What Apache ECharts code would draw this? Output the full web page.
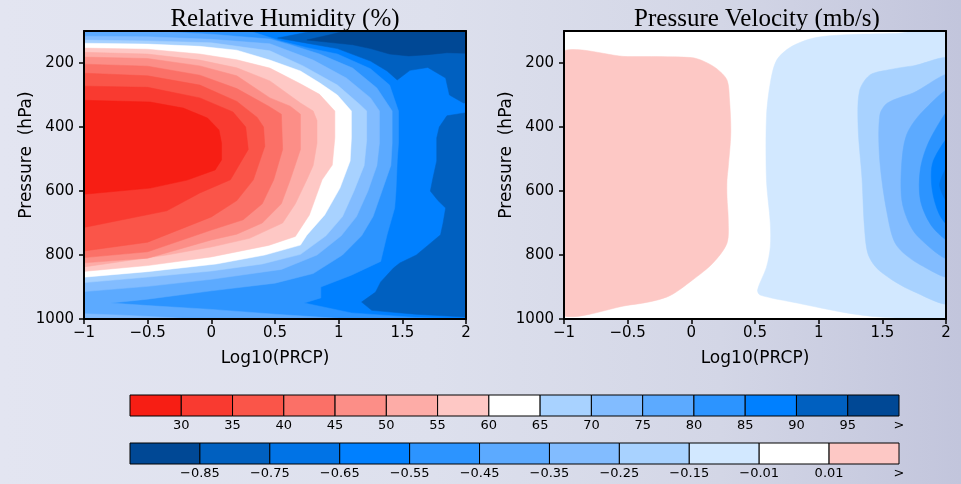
<!DOCTYPE html>
<html>
<head>
<meta charset="utf-8">
<title>Relative Humidity / Pressure Velocity</title>
<script src="https://cdn.jsdelivr.net/npm/echarts@6.0.0/dist/echarts.min.js"></script>
<style>
    html, body { margin: 0; padding: 0; }
    body {
        width: 961px; height: 484px; overflow: hidden;
        background: linear-gradient(to right, #e3e5f1 0%, #dde0ed 45%, #d3d6e6 75%, #c2c5dc 100%);
    }
    #chart { width: 961px; height: 484px; }
</style>
</head>
<body>
<div id="chart"></div>
<script type="text/javascript">
    // colour scales (one entry per band of the colour bars)
    var rhColors = ['#f71e14', '#f93a30', '#fa5549', '#fb7067', '#fc8e87', '#fdaca7', '#fec8c5', '#ffffff',
        '#a8d2ff', '#82bcff', '#5caaff', '#2c94ff', '#0080ff', '#0060c0', '#004895'];
    var rhBarLabels = ['30', '35', '40', '45', '50', '55', '60', '65', '70', '75', '80', '85', '90', '95', '>'];
    var wColors = ['#004895', '#0060c0', '#0073e6', '#0080ff', '#2c94ff', '#5caaff', '#82bcff', '#a8d2ff',
        '#d2e8ff', '#ffffff', '#fdc8c5'];
    var wBarLabels = ['\u22120.85', '\u22120.75', '\u22120.65', '\u22120.55', '\u22120.45', '\u22120.35',
        '\u22120.25', '\u22120.15', '\u22120.01', '0.01', '>'];
    var pressTicks = [200, 400, 600, 800, 1000];

    // relative humidity contours, [log10(prcp), hPa]
    var rhAbove90Top = [[0.52,122],[0.65,112],[0.80,100],[0.80,95],[2.05,95],[2.05,325],[1.98,325],[1.87,300],[1.84,247],
        [1.70,214],[1.56,223],[1.46,253],[1.38,225],[1.25,194],[0.99,155],[0.75,138],[0.52,122]];
    var rhAbove90Right = [[2.05,352],[1.85,365],[1.79,400],[1.77,434],[1.77,506],[1.74,560],[1.72,600],[1.78,630],[1.84,653],
        [1.82,700],[1.80,737],[1.70,770],[1.61,800],[1.48,825],[1.43,841],[1.33,884],[1.29,916],[1.18,947],[1.26,973],
        [1.60,985],[2.05,995]];
    var rhAbove95 = [[0.75,128],[0.93,112],[1.05,100],[1.05,95],[2.05,95],[2.05,170],[1.85,168],[1.70,174],[1.55,178],
        [1.40,172],[1.25,155],[1.11,143],[0.96,137],[0.75,128]];
    var rhBelow85 = [[0.30,95],[0.30,100],[0.42,115],[0.55,132],[0.75,152],[0.99,172],[1.25,218],[1.40,269],[1.47,350],
        [1.47,450],[1.46,506],[1.45,600],[1.44,653],[1.38,737],[1.33,820],[1.10,863],[0.86,900],[0.86,934],[0.73,950],
        [1.10,981],[1.60,995],[2.05,1001],[2.05,1010],[-1.05,1010],[-1.05,95]];
    var rhBelow80 = [[-0.47,95],[-0.47,100],[0.0,110],[0.46,125],[0.62,143],[0.85,172],[1.11,216],[1.30,278],[1.42,350],
        [1.42,450],[1.41,520],[1.34,600],[1.27,680],[1.18,740],[1.03,800],[0.80,858],[0.50,888],[0.0,912],[-0.5,938],
        [-0.79,950],[-0.5,958],[0.0,970],[0.5,985],[1.0,998],[1.2,1010],[-1.05,1010],[-1.05,95]];
    var rhBelow75 = [[-1.05,116],[-0.5,118],[0.0,126],[0.46,140],[0.80,191],[1.06,247],[1.25,309],[1.32,350],[1.32,450],
        [1.30,520],[1.23,600],[1.14,680],[1.02,740],[0.83,800],[0.55,845],[0.0,876],[-0.5,898],[-1.05,916]];
    var rhBelow75Foot = [[-1.05,983],[-0.7,988],[-0.3,996],[0.0,1005],[-1.05,1005]];
    var rhBelow70 = [[-1.05,128],[-0.5,131],[0.0,137],[0.46,162],[0.72,209],[0.99,269],[1.17,331],[1.22,350],[1.22,440],
        [1.20,520],[1.12,600],[1.03,680],[0.90,740],[0.70,798],[0.40,828],[0.0,850],[-0.5,869],[-1.05,888]];
    var rhBelow65 = [[-1.05,138],[-0.5,141],[-0.09,148],[0.2,160],[0.46,191],[0.70,225],[0.85,262],[0.99,300],[1.10,350],
        [1.10,434],[1.09,506],[1.01,591],[0.89,675],[0.75,738],[0.70,769],[0.42,800],[0.04,828],[-0.5,852],[-1.05,871]];
    var rhBelow60 = [[-1.05,153],[-0.5,157],[-0.09,172],[0.2,190],[0.46,216],[0.70,265],[0.85,298],[0.97,350],[0.97,434],
        [0.95,519],[0.87,565],[0.77,675],[0.66,742],[0.45,770],[0.0,806],[-0.5,833],[-1.05,853]];
    var rhBelow55 = [[-1.05,166],[-0.5,172],[-0.09,191],[0.2,215],[0.46,256],[0.70,325],[0.80,350],[0.83,380],[0.83,450],
        [0.80,520],[0.75,565],[0.66,640],[0.56,700],[0.30,748],[0.0,775],[-0.35,800],[-1.05,840]];
    var rhBelow50 = [[-1.05,181],[-0.5,186],[-0.09,209],[0.2,240],[0.46,309],[0.62,335],[0.70,360],[0.70,470],[0.62,565],
        [0.55,640],[0.40,700],[0.2,735],[0.0,753],[-0.5,810],[-1.05,826]];
    var rhBelow45 = [[-1.05,203],[-0.5,210],[-0.09,238],[0.2,280],[0.45,335],[0.55,360],[0.56,470],[0.49,565],[0.40,640],
        [0.25,690],[0.0,722],[-0.5,790],[-1.05,810]];
    var rhBelow40 = [[-1.05,231],[-0.5,240],[-0.09,269],[0.2,320],[0.36,370],[0.41,400],[0.42,460],[0.33,565],[0.2,630],
        [0.0,681],[-0.5,760],[-1.05,790]];
    var rhBelow35 = [[-1.05,272],[-0.5,276],[-0.09,309],[0.17,353],[0.27,400],[0.29,470],[0.15,565],[-0.09,606],
        [-0.35,662],[-1.05,718]];
    var rhBelow30 = [[-1.05,316],[-0.48,322],[-0.22,341],[-0.03,372],[0.06,409],[0.08,450],[0.08,503],[0.03,534],
        [-0.19,566],[-0.48,591],[-1.05,612]];

    // pressure velocity contours, [log10(prcp), hPa]
    var wAbove001 = [[-1.05,181],[-0.5,180],[0.0,183],[0.1,195],[0.2,218],[0.28,253],[0.30,316],[0.31,419],[0.29,525],
        [0.28,566],[0.28,619],[0.29,691],[0.28,763],[0.17,825],[0.01,878],[-0.19,931],[-0.48,956],[-1.05,972]];
    var wBelowM001 = [[2.05,105],[1.6,108],[1.2,112],[0.96,122],[0.78,150],[0.67,191],[0.62,263],[0.59,368],[0.59,566],
        [0.62,700],[0.62,775],[0.59,838],[0.52,909],[0.54,925],[0.83,950],[1.22,981],[1.48,994],[1.8,1001],[2.05,1003]];
    var wBelowM015 = [[2.05,194],[1.74,209],[1.54,222],[1.40,238],[1.32,288],[1.31,403],[1.34,559],[1.36,716],[1.39,800],
        [1.48,850],[1.74,913],[2.05,944]];
    var wBelowM025 = [[2.05,241],[1.74,294],[1.54,325],[1.48,363],[1.48,506],[1.54,675],[1.61,769],[1.80,831],[2.05,863]];
    var wBelowM035 = [[2.05,284],[1.82,350],[1.69,425],[1.65,528],[1.66,644],[1.77,738],[2.05,809]];
    var wBelowM045 = [[2.05,341],[1.88,434],[1.80,528],[1.80,631],[1.90,716],[2.05,756]];
    var wBelowM055 = [[2.05,425],[1.90,506],[1.89,591],[1.95,675],[2.05,716]];
    var wBelowM065 = [[2.05,506],[1.95,581],[2.05,653]];

    var rhLayers = [
        {pts: rhAbove90Top, color: rhColors[13]},
        {pts: rhAbove90Right, color: rhColors[13]},
        {pts: rhAbove95, color: rhColors[14]},
        {pts: rhBelow85, color: rhColors[11]},
        {pts: rhBelow80, color: rhColors[10]},
        {pts: rhBelow75, color: rhColors[9]},
        {pts: rhBelow75Foot, color: rhColors[9]},
        {pts: rhBelow70, color: rhColors[8]},
        {pts: rhBelow65, color: rhColors[7]},
        {pts: rhBelow60, color: rhColors[6]},
        {pts: rhBelow55, color: rhColors[5]},
        {pts: rhBelow50, color: rhColors[4]},
        {pts: rhBelow45, color: rhColors[3]},
        {pts: rhBelow40, color: rhColors[2]},
        {pts: rhBelow35, color: rhColors[1]},
        {pts: rhBelow30, color: rhColors[0]}
    ];
    var wLayers = [
        {pts: wAbove001, color: wColors[10]},
        {pts: wBelowM001, color: wColors[8]},
        {pts: wBelowM015, color: wColors[7]},
        {pts: wBelowM025, color: wColors[6]},
        {pts: wBelowM035, color: wColors[5]},
        {pts: wBelowM045, color: wColors[4]},
        {pts: wBelowM055, color: wColors[3]},
        {pts: wBelowM065, color: wColors[2]}
    ];

    var font = 'DejaVu Sans';

    function contourSeries(idx, layers, smooth) {
        return {
            type: 'custom', xAxisIndex: idx, yAxisIndex: idx, clip: true, silent: true,
            data: layers.map(function () { return [0.5, 500]; }),
            renderItem: function (params, api) {
                var layer = layers[params.dataIndex];
                return {
                    type: 'polygon', z2: params.dataIndex,
                    shape: {points: layer.pts.map(function (p) { return api.coord(p); }), smooth: smooth},
                    style: {fill: layer.color, stroke: layer.color, lineWidth: 0.5}
                };
            }
        };
    }

    function barSeries(idx, colors) {
        return {
            type: 'custom', xAxisIndex: idx, yAxisIndex: idx, silent: true,
            data: colors.map(function (c, i) { return [i + 0.5, 0.5]; }),
            renderItem: function (params, api) {
                var i = params.dataIndex;
                var a = api.coord([i, 1]), b = api.coord([i + 1, 0]);
                return {
                    type: 'rect',
                    shape: {x: a[0], y: a[1], width: b[0] - a[0], height: b[1] - a[1]},
                    style: {fill: colors[i], stroke: '#000', lineWidth: 1}
                };
            }
        };
    }

    function plotX(grid, top) {
        return {
            gridIndex: grid, type: 'value', min: -1, max: 2, interval: 0.5, position: top ? 'top' : 'bottom', z: 10,
            axisLine: {show: true, onZero: false, lineStyle: {color: '#000', width: 2}},
            axisTick: {show: !top, length: 5, lineStyle: {color: '#000', width: 1.5}},
            axisLabel: {show: !top, color: '#000', fontSize: 15, fontFamily: font, margin: 7,
                formatter: function (v) { return String(v).replace('-', '\u2212'); }},
            splitLine: {show: false},
            name: top ? '' : 'Log10(PRCP)', nameLocation: 'middle', nameGap: 31,
            nameTextStyle: {color: '#000', fontSize: 17, fontFamily: font}
        };
    }

    function plotY(grid, right) {
        return {
            gridIndex: grid, type: 'value', min: 100, max: 1000, inverse: true, position: right ? 'right' : 'left', z: 10,
            axisLine: {show: true, onZero: false, lineStyle: {color: '#000', width: 2}},
            axisTick: {show: !right, length: 5, customValues: pressTicks, lineStyle: {color: '#000', width: 1.5}},
            axisLabel: {show: !right, color: '#000', fontSize: 15, fontFamily: font, margin: 10, customValues: pressTicks,
                formatter: function (v) { return String(v); }},
            splitLine: {show: false}
        };
    }

    function barX(grid, labels) {
        var vals = labels.map(function (l, i) { return i + 1; });
        return {
            gridIndex: grid, type: 'value', min: 0, max: labels.length,
            axisLine: {show: false}, axisTick: {show: false}, splitLine: {show: false},
            axisLabel: {color: '#000', fontSize: 13, fontFamily: font, margin: 3, customValues: vals,
                formatter: function (v) { return labels[Math.round(v) - 1]; }}
        };
    }

    function barY(grid) {
        return {gridIndex: grid, type: 'value', min: 0, max: 1, show: false};
    }

    var myChart = echarts.init(document.getElementById('chart'), null, {renderer: 'canvas'});

    var option = {
        animation: false,
        backgroundColor: 'transparent',
        title: [
            {text: 'Relative Humidity (%)', left: 280, top: 2, textAlign: 'center',
                textStyle: {fontFamily: 'Liberation Serif', fontSize: 25, fontWeight: 'normal', color: '#000'}},
            {text: 'Pressure Velocity (mb/s)', left: 752, top: 2, textAlign: 'center',
                textStyle: {fontFamily: 'Liberation Serif', fontSize: 25, fontWeight: 'normal', color: '#000'}}
        ],
        grid: [
            {left: 84, top: 31, width: 382, height: 288, show: true, backgroundColor: rhColors[12], borderWidth: 0},
            {left: 564, top: 31, width: 382, height: 288, show: true, backgroundColor: '#ffffff', borderWidth: 0},
            {left: 130, top: 395, width: 769, height: 21},
            {left: 130, top: 443, width: 769, height: 21}
        ],
        xAxis: [plotX(0, false), plotX(0, true), plotX(1, false), plotX(1, true), barX(2, rhBarLabels), barX(3, wBarLabels)],
        yAxis: [plotY(0, false), plotY(0, true), plotY(1, false), plotY(1, true), barY(2), barY(3)],
        graphic: [
            {type: 'text', x: 27, y: 155, rotation: Math.PI / 2,
                style: {text: 'Pressure  (hPa)', font: '17px "DejaVu Sans"', fill: '#000',
                    align: 'center', verticalAlign: 'middle', textAlign: 'center', textVerticalAlign: 'middle'}},
            {type: 'text', x: 507, y: 155, rotation: Math.PI / 2,
                style: {text: 'Pressure  (hPa)', font: '17px "DejaVu Sans"', fill: '#000',
                    align: 'center', verticalAlign: 'middle', textAlign: 'center', textVerticalAlign: 'middle'}}
        ],
        series: [
            contourSeries(0, rhLayers, 0),
            contourSeries(2, wLayers, 0.3),
            barSeries(4, rhColors),
            barSeries(5, wColors)
        ]
    };
    myChart.setOption(option);
</script>
</body>
</html>
